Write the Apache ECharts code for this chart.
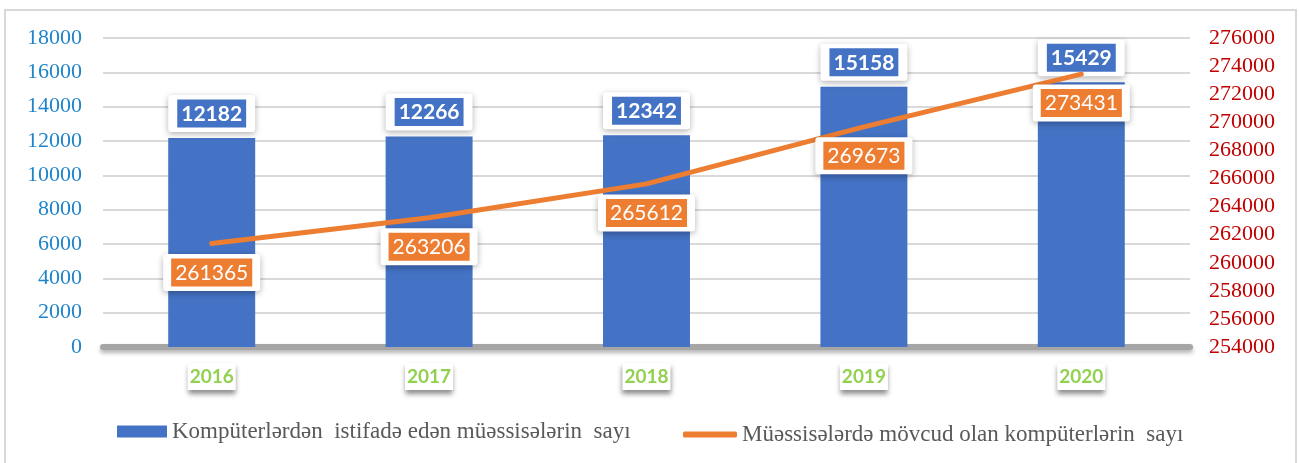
<!DOCTYPE html>
<html>
<head>
<meta charset="utf-8">
<script src="https://cdn.jsdelivr.net/npm/echarts@6/dist/echarts.min.js"></script>
<style>
  html, body { margin: 0; padding: 0; background: #fff; }
  #chart { width: 1299px; height: 463px; }
</style>
</head>
<body>
<div id="chart"></div>
<script>
// Years on the category axis
const years = ['2016', '2017', '2018', '2019', '2020'];
// Number of institutions using computers (left axis, bars)
const institutions = [12182, 12266, 12342, 15158, 15429];
// Number of computers available in institutions (right axis, line)
const computers = [261365, 263206, 265612, 269673, 273431];

const barName = 'Kompüterlərdən  istifadə edən müəssisələrin  sayı';
const lineName = 'Müəssisələrdə mövcud olan kompüterlərin  sayı';

const chart = echarts.init(document.getElementById('chart'), null, { renderer: 'canvas' });

const labelFont = 'Lato, "Open Sans", sans-serif';
const serif = '"Liberation Serif", "DejaVu Serif", serif';
const plain = v => String(v);

chart.setOption({
  animation: false,
  backgroundColor: '#fff',
  graphic: [{
    type: 'rect',
    shape: { x: 5, y: 10, width: 1291, height: 470 },
    style: { fill: 'none', stroke: '#D9D9D9', lineWidth: 2 },
    silent: true
  }],
  grid: { left: 103, right: 109, top: 38, bottom: 116 },
  legend: [{
    data: [barName],
    left: 117, top: 420,
    padding: 0,
    itemWidth: 50, itemHeight: 12, itemGap: 0,
    icon: 'rect',
    textStyle: { fontFamily: serif, fontSize: 23, color: '#595959' }
  }, {
    data: [lineName],
    left: 683, top: 423,
    padding: 0,
    itemWidth: 54, itemHeight: 6,
    icon: 'roundRect',
    textStyle: { fontFamily: serif, fontSize: 23, color: '#595959' }
  }],
  xAxis: {
    type: 'category',
    data: years,
    axisTick: { show: false },
    axisLine: {
      lineStyle: {
        color: '#A6A6A6', width: 6,
        shadowColor: 'rgba(0,0,0,0.3)', shadowBlur: 4, shadowOffsetY: 3
      }
    },
    axisLabel: {
      margin: 16,
      color: '#92D050',
      fontFamily: labelFont,
      fontWeight: 'bold',
      fontSize: 19,
      backgroundColor: '#fff',
      padding: [4, 2, 4, 2],
      shadowColor: 'rgba(0,0,0,0.45)', shadowBlur: 5, shadowOffsetY: 4
    }
  },
  yAxis: [{
    type: 'value',
    min: 0, max: 18000, interval: 2000,
    axisLine: { show: false },
    axisTick: { show: false },
    splitLine: { lineStyle: { color: '#D9D9D9', width: 2 } },
    axisLabel: { margin: 21, color: '#1F84CA', fontFamily: serif, fontSize: 22, formatter: plain }
  }, {
    type: 'value',
    min: 254000, max: 276000, interval: 2000,
    axisLine: { show: false },
    axisTick: { show: false },
    splitLine: { show: false },
    axisLabel: { margin: 19, color: '#C00000', fontFamily: serif, fontSize: 22, formatter: plain }
  }],
  series: [{
    name: barName,
    type: 'bar',
    data: institutions,
    barWidth: '40%',
    itemStyle: { color: '#4472C4' },
    label: {
      show: true,
      position: 'top',
      distance: 6,
      formatter: '{v|{c}}',
      backgroundColor: '#fff',
      padding: [7, 9, 7, 9],
      borderRadius: 3,
      shadowColor: 'rgba(0,0,0,0.3)', shadowBlur: 6, shadowOffsetY: 2,
      rich: {
        v: {
          backgroundColor: '#4472C4', color: '#fff',
          fontFamily: labelFont, fontWeight: 'bold', fontSize: 21,
          padding: [4, 4, 3, 4], lineHeight: 23
        }
      }
    }
  }, {
    name: lineName,
    type: 'line',
    yAxisIndex: 1,
    data: computers,
    symbol: 'circle',
    symbolSize: 1,
    showSymbol: true,
    itemStyle: { color: '#ED7D31' },
    lineStyle: { color: '#ED7D31', width: 5, cap: 'round' },
    label: {
      show: true,
      position: 'bottom',
      distance: 10,
      formatter: '{v|{c}}',
      backgroundColor: '#fff',
      padding: [7, 8, 7, 8],
      borderRadius: 3,
      shadowColor: 'rgba(0,0,0,0.3)', shadowBlur: 6, shadowOffsetY: 2,
      rich: {
        v: {
          backgroundColor: '#ED7D31', color: '#fff',
          fontFamily: labelFont, fontSize: 21,
          padding: [4, 4, 3, 4], lineHeight: 23
        }
      }
    }
  }]
});
</script>
</body>
</html>
